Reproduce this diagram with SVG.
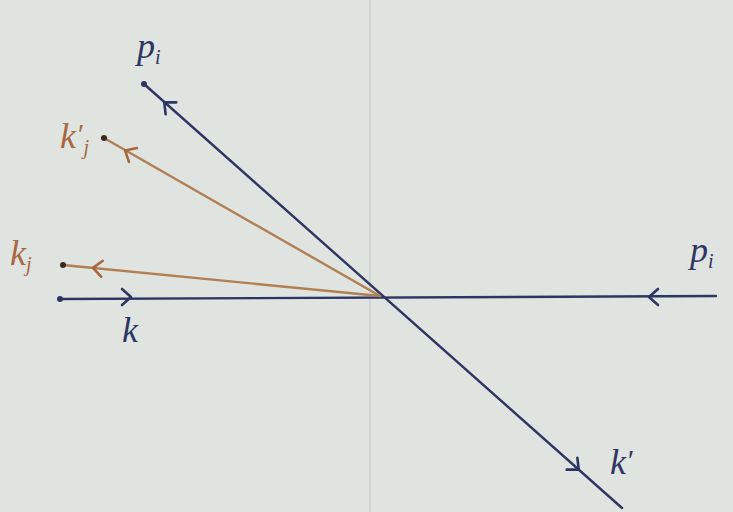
<svg xmlns="http://www.w3.org/2000/svg" width="733" height="512" viewBox="0 0 733 512">
<style>
.bl{stroke:#2e3562;stroke-width:2.4;fill:none;stroke-linecap:round}
.or{stroke:#b27f52;stroke-width:2.4;fill:none;stroke-linecap:round}
.lb{font-family:"Liberation Serif",serif;font-style:italic;font-size:36px}
.sb{font-size:20px}
.pr{font-size:30px}
.tb{fill:#2e3562}
.to{fill:#a8683f}
</style>
<defs>
<path id="chev" d="M -8,-8 L 1,0 L -8,8" stroke-width="2.6" fill="none" stroke-linecap="round" stroke-linejoin="round"/>
</defs>
<rect width="733" height="512" fill="#dfe4e0"/>
<line x1="370" y1="0" x2="370" y2="512" stroke="#cfd6d2" stroke-width="2"/>
<g id="connectors">
<line class="bl" x1="144" y1="84" x2="622" y2="508"/>
<line class="bl" x1="60" y1="299" x2="716" y2="296"/>
<line class="or" x1="104" y1="138" x2="380" y2="296"/>
<line class="or" x1="63" y1="265" x2="380" y2="296"/>
<circle cx="144" cy="84" r="3" fill="#2e3562"/>
<circle cx="60" cy="299" r="3" fill="#2e3562"/>
<circle cx="104" cy="138" r="3" fill="#3a2a20"/>
<circle cx="63" cy="265" r="3" fill="#3a2a20"/>
<use href="#chev" stroke="#2e3562" transform="translate(165,103) rotate(221.6)"/>
<use href="#chev" stroke="#2e3562" transform="translate(578,469) rotate(41.6)"/>
<use href="#chev" stroke="#2e3562" transform="translate(130,297) rotate(0)"/>
<use href="#chev" stroke="#2e3562" transform="translate(650,297) rotate(180)"/>
<use href="#chev" stroke="#a8683f" transform="translate(126,151) rotate(209.8)"/>
<use href="#chev" stroke="#a8683f" transform="translate(94,268) rotate(185.6)"/>
</g>
<g id="label-pi-top"><text class="lb tb" x="137" y="58">p<tspan class="sb" dy="6">i</tspan></text></g>
<g id="label-kj-prime"><text class="lb to" x="60" y="148">k<tspan class="pr" dy="-4">′</tspan><tspan class="sb" dx="1" dy="10">j</tspan></text></g>
<g id="label-kj"><text class="lb to" x="10" y="265">k<tspan class="sb" dy="6">j</tspan></text></g>
<g id="label-k"><text class="lb tb" x="122" y="342">k</text></g>
<g id="label-pi-right"><text class="lb tb" x="690" y="262">p<tspan class="sb" dy="6">i</tspan></text></g>
<g id="label-k-prime"><text class="lb tb" x="610" y="474">k<tspan class="pr" dy="-4">′</tspan></text></g>
</svg>
